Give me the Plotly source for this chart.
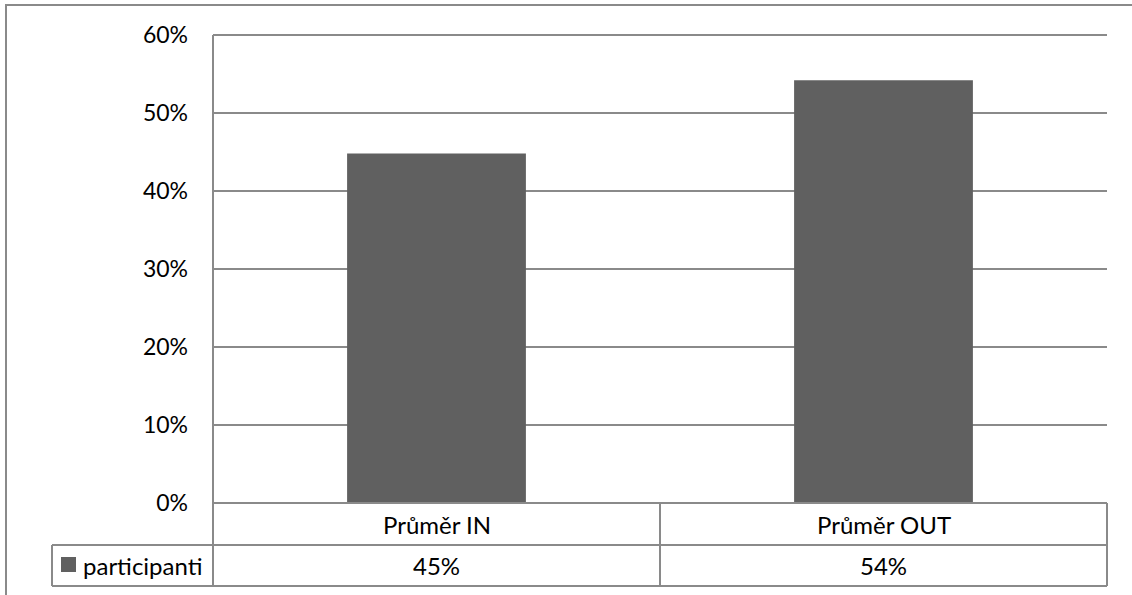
import plotly.graph_objects as go

# Data
categories = ["Průměr IN", "Průměr OUT"]
series_name = "participanti"
participanti = [0.448, 0.542]
y_ticks = [0, 0.1, 0.2, 0.3, 0.4, 0.5, 0.6]

# Layout geometry (pixels)
W, H = 1132, 595
L, R, T, B = 213, 25, 35, 92
PLOT_W = W - L - R
PLOT_H = H - T - B
ROW1_BOTTOM = 545   # bottom of the category row
ROW2_BOTTOM = 586   # bottom of the values row
LEGEND_LEFT = 52

LINE = "#8a8a8a"
BAR = "#606060"
FONT = "Lato, 'Open Sans', sans-serif"
TABLE_FONT_SIZE = 24


def py(p):
    """pixel row -> paper y"""
    return (H - B - p) / PLOT_H


def px(p):
    """pixel column -> paper x"""
    return (p - L) / PLOT_W


fig = go.Figure(
    go.Bar(
        x=list(range(len(categories))),
        y=participanti,
        name=series_name,
        marker=dict(color=BAR, line=dict(width=0)),
        width=0.4,
        showlegend=False,
    )
)

shapes = []
# outer chart border
shapes.append(dict(type="rect", xref="paper", yref="paper",
                   x0=px(6), x1=px(W + 20), y0=py(5), y1=py(H + 20),
                   line=dict(color=LINE, width=2), fillcolor="rgba(0,0,0,0)", layer="below"))
# top gridline at the end of the value range
shapes.append(dict(type="line", xref="paper", yref="paper",
                   x0=0, x1=1, y0=1, y1=1, line=dict(color=LINE, width=2)))
# left axis line, running through the data table
shapes.append(dict(type="line", xref="paper", yref="paper",
                   x0=0, x1=0, y0=1, y1=py(ROW2_BOTTOM), line=dict(color=LINE, width=2)))
# table horizontal lines
shapes.append(dict(type="line", xref="paper", yref="paper",
                   x0=0, x1=1, y0=0, y1=0, line=dict(color=LINE, width=2)))
shapes.append(dict(type="line", xref="paper", yref="paper",
                   x0=px(LEGEND_LEFT), x1=1, y0=py(ROW1_BOTTOM), y1=py(ROW1_BOTTOM),
                   line=dict(color=LINE, width=2)))
shapes.append(dict(type="line", xref="paper", yref="paper",
                   x0=px(LEGEND_LEFT), x1=1, y0=py(ROW2_BOTTOM), y1=py(ROW2_BOTTOM),
                   line=dict(color=LINE, width=2)))
# legend cell left edge
shapes.append(dict(type="line", xref="paper", yref="paper",
                   x0=px(LEGEND_LEFT), x1=px(LEGEND_LEFT), y0=py(ROW1_BOTTOM), y1=py(ROW2_BOTTOM),
                   line=dict(color=LINE, width=2)))
# table right edge
shapes.append(dict(type="line", xref="paper", yref="paper",
                   x0=1, x1=1, y0=0, y1=py(ROW2_BOTTOM), line=dict(color=LINE, width=2)))
# column dividers between categories
for i in range(len(categories) - 1):
    shapes.append(dict(type="line", xref="x", yref="paper",
                       x0=i + 0.5, x1=i + 0.5, y0=0, y1=py(ROW2_BOTTOM),
                       line=dict(color=LINE, width=2)))
# legend key
shapes.append(dict(type="rect", xref="paper", yref="paper",
                   x0=px(61), x1=px(76), y0=py(557), y1=py(572),
                   line=dict(width=0), fillcolor=BAR))

annotations = []
row1_mid = py((H - B + ROW1_BOTTOM) / 2)
row2_mid = py((ROW1_BOTTOM + ROW2_BOTTOM) / 2)
table_font = dict(size=TABLE_FONT_SIZE, color="#000", family=FONT)
for i, (cat, val) in enumerate(zip(categories, participanti)):
    annotations.append(dict(x=i, y=row1_mid, xref="x", yref="paper", text=cat,
                            xanchor="center", yanchor="middle",
                            showarrow=False, font=table_font))
    annotations.append(dict(x=i, y=row2_mid, xref="x", yref="paper", text=f"{val:.0%}",
                            xanchor="center", yanchor="middle",
                            showarrow=False, font=table_font))
annotations.append(dict(x=px(81), y=row2_mid, xref="paper", yref="paper", text=series_name,
                        xanchor="left", yanchor="middle", showarrow=False, font=table_font))

fig.update_layout(
    width=W, height=H,
    margin=dict(l=L, r=R, t=T, b=B),
    paper_bgcolor="white", plot_bgcolor="white",
    font=dict(family=FONT, size=22, color="#000"),
    shapes=shapes,
    annotations=annotations,
    bargap=0.6,
    xaxis=dict(range=[-0.5, len(categories) - 0.5], showticklabels=False,
               showgrid=False, zeroline=False, showline=False, ticks=""),
    yaxis=dict(range=[0, 0.6], tickvals=y_ticks, tickformat=".0%",
               showgrid=True, gridcolor=LINE, gridwidth=2,
               zeroline=False, showline=False, ticks="", ticklabelstandoff=24,
               tickfont=dict(size=23)),
)

fig.write_html("out.html")
